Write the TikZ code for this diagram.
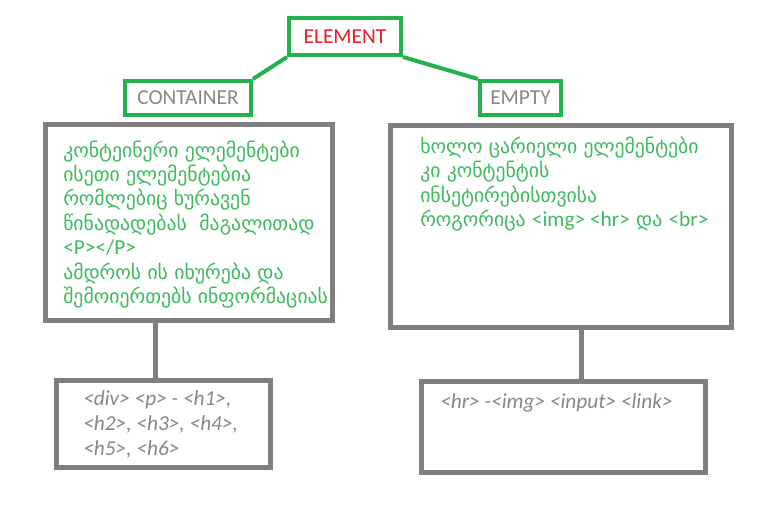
\documentclass[tikz,border=0pt]{standalone}
\usepackage{fontspec}
\setmainfont{Carlito}
\newfontfamily\geo{DejaVu Sans}
\usepackage{tikz}

\definecolor{boxgreen}{RGB}{34,177,76}
\definecolor{txtgreen}{RGB}{60,186,92}
\definecolor{elemred}{RGB}{237,28,36}
\definecolor{boxgray}{RGB}{127,127,127}
\definecolor{txtgray}{RGB}{135,135,135}

\begin{document}
\begin{tikzpicture}[x=0.75pt, y=-0.75pt,
    greenbox/.style={draw=boxgreen, line width=3pt, minimum height=25.5pt, text=txtgray,
      font=\fontsize{16}{19}\selectfont, inner sep=0pt},
    graybox/.style={draw=boxgray, line width=3.75pt, inner sep=0pt},
    geotext/.style={text=txtgreen, align=left, inner sep=0pt, anchor=base west,
      font=\geo\fontsize{14.8}{18.3}\selectfont},
    tagtext/.style={text=txtgray, align=left, inner sep=0pt, anchor=base west,
      font=\itshape\fontsize{16}{18.75}\selectfont}]
    \useasboundingbox (0,0) rectangle (763,511);

    % top row
    \node[greenbox, minimum width=84pt, minimum height=27.75pt, text=elemred] (elem) at (345,36.5) {ELEMENT};
    \node[greenbox, minimum width=94.5pt] (cont) at (188,98) {CONTAINER};
    \node[greenbox, minimum width=60.75pt] (empty) at (520.5,98) {EMPTY};

    \draw[boxgreen, line width=3pt] (elem.south west) -- (cont.north east);
    \draw[boxgreen, line width=3pt] (elem.south east) -- (empty.north west);

    % big boxes (base of a text node = its last line)
    \node[graybox, minimum width=215.25pt, minimum height=147pt] (cbox) at (189,222.5) {};
    \node[graybox, minimum width=255.75pt, minimum height=151.5pt] (ebox) at (561,226.5) {};
    \node[geotext] (ctext) at (63,303.5) {კონტეინერი ელემენტები\\ისეთი ელემენტებია\\რომლებიც ხურავენ\\წინადადებას\ \ მაგალითად\\{\fontspec{Carlito}\fontsize{16}{18.3}\selectfont <P></P>}\\ამდროს ის იხურება და\\შემოიერთებს ინფორმაციას};
    \node[geotext] (etext) at (420,226.5) {ხოლო ცარიელი ელემენტები\\კი კონტენტის\\ინსეტირებისთვისა\\როგორიცა {\fontspec{Carlito}\fontsize{16}{18.3}\selectfont <img> <hr>} და {\fontspec{Carlito}\fontsize{16}{18.3}\selectfont <br>}};

    % examples
    \node[graybox, minimum width=160.5pt, minimum height=65.25pt] (csub) at (163.5,424) {};
    \node[graybox, minimum width=213pt, minimum height=68.25pt] (esub) at (563.5,427) {};
    \node[tagtext] (ctags) at (83,455) {<div> <p> - <h1>,\\<h2>, <h3>, <h4>,\\<h5>, <h6>};
    \node[tagtext] (etags) at (440,408) {<hr> -<img> <input> <link>};

    \coordinate (cstem) at (155,0);
    \coordinate (estem) at (581,0);
    \draw[boxgray, line width=3.75pt] (cstem |- cbox.south) -- (cstem |- csub.north);
    \draw[boxgray, line width=3.75pt] (estem |- ebox.south) -- (estem |- esub.north);
  \end{tikzpicture}
\end{document}
